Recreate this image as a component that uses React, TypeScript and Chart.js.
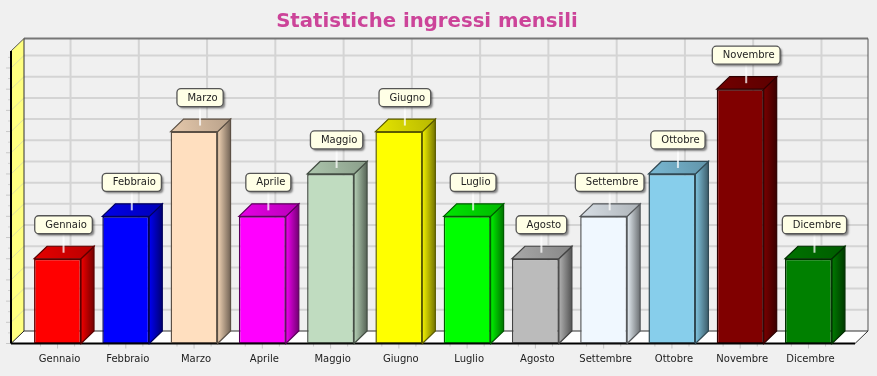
import React, { useEffect, useRef } from "react";
import { Chart, registerables } from "chart.js";

Chart.register(...registerables);

const months = ["Gennaio", "Febbraio", "Marzo", "Aprile", "Maggio", "Giugno", "Luglio", "Agosto", "Settembre", "Ottobre", "Novembre", "Dicembre"];
const ingressi = [2, 3, 5, 3, 4, 5, 3, 2, 3, 4, 6, 2];
const barColors = ["#ff0000", "#0000ff", "#ffdfbf", "#ff00ff", "#c0dcc0", "#ffff00", "#00ff00", "#bbbbbb", "#f0f8ff", "#87ceeb", "#800000", "#008000"];
const chartTitle = "Statistiche ingressi mensili";

const DX = 13;
const DY = 12.5;
const MARGIN = 12.4;

function shade(hex: string, k: number) {
  const n = parseInt(hex.slice(1), 16);
  const r = Math.round(((n >> 16) & 255) * k);
  const g = Math.round(((n >> 8) & 255) * k);
  const b = Math.round((n & 255) * k);
  return `rgb(${r},${g},${b})`;
}

function poly(ctx: CanvasRenderingContext2D, pts: number[][]) {
  ctx.beginPath();
  pts.forEach((p, i) => (i ? ctx.lineTo(p[0], p[1]) : ctx.moveTo(p[0], p[1])));
  ctx.closePath();
}

function seg(ctx: CanvasRenderingContext2D, x0: number, y0: number, x1: number, y1: number, color: string, w: number) {
  ctx.strokeStyle = color;
  ctx.lineWidth = w;
  ctx.beginPath();
  ctx.moveTo(x0, y0);
  ctx.lineTo(x1, y1);
  ctx.stroke();
}

const box3d = {
  id: "box3d",
  afterLayout(chart: any) {
    // the title is centred on the whole frame, not on the plot
    chart.titleBlock.left = 0;
    chart.titleBlock.right = 854;
  },
  beforeDraw(chart: any) {
    const { ctx, width, height } = chart;
    ctx.save();
    ctx.fillStyle = "#f0f0f0";
    ctx.fillRect(0, 0, width, height);
    ctx.restore();
  },
  beforeDatasetsDraw(chart: any) {
    const { ctx, chartArea: a, scales } = chart;
    const L = a.left - MARGIN;
    const R = a.right + MARGIN;
    const T = a.top;
    const B = a.bottom;
    ctx.save();
    // floor
    ctx.fillStyle = "#ffffff";
    poly(ctx, [[L, B], [R, B], [R + DX, B - DY], [L + DX, B - DY]]);
    ctx.fill();
    // left wall
    ctx.fillStyle = "#ffff80";
    poly(ctx, [[L, T], [L + DX, T - DY], [L + DX, B - DY], [L, B]]);
    ctx.fill();
    // horizontal grid
    scales.y.ticks.forEach((t: any) => {
      const y = scales.y.getPixelForValue(t.value);
      if (t.value > 0) {
        seg(ctx, L + DX, y - DY, R + DX, y - DY, "#d4d4d4", 2);
        seg(ctx, L, y, L + DX, y - DY, "#e0e0a0", 1);
      }
      seg(ctx, L - 5, y, L, y, "#c8c8c8", 1);
      const mid = scales.y.getPixelForValue(t.value + 0.25);
      if (mid > T) seg(ctx, L - 3, mid, L, mid, "#d0d0d0", 1);
    });
    // vertical grid and x tick marks
    months.forEach((_, i) => {
      const x = scales.x.getPixelForTick(i);
      seg(ctx, x + DX, T - DY, x + DX, B - DY, "#d4d4d4", 2);
      seg(ctx, x, B, x, B + 5, "#c4c4c4", 1);
      const step = (scales.x.getPixelForTick(1) - scales.x.getPixelForTick(0)) / 4;
      [-1, 1].forEach((s) => seg(ctx, x + s * step, B, x + s * step, B + 3, "#c8c8c8", 1));
    });
    // frame
    seg(ctx, L + DX, T - DY, R + DX, T - DY, "#777777", 2);
    seg(ctx, R + DX, T - DY, R + DX, B - DY, "#555555", 1);
    seg(ctx, L + DX, T - DY, L + DX, B - DY, "#333333", 1);
    seg(ctx, L + DX, B - DY, R + DX, B - DY, "#333333", 1);
    seg(ctx, R, B, R + DX, B - DY, "#333333", 1);
    seg(ctx, L, T, L + DX, T - DY, "#555555", 1);
    seg(ctx, L, B, L + DX, B - DY, "#222222", 1);
    seg(ctx, L, T, L, B, "#000000", 2);
    seg(ctx, L, B, R, B, "#000000", 2);
    // bar top and side faces
    const meta = chart.getDatasetMeta(0);
    meta.data.forEach((bar: any, i: number) => {
      const c = barColors[i];
      const x0 = bar.x - bar.width / 2;
      const x1 = bar.x + bar.width / 2;
      const yT = bar.y;
      const yB = bar.base;
      const edge = shade(c, 0.36);
      const sideGrad = ctx.createLinearGradient(x1, 0, x1 + DX, 0);
      sideGrad.addColorStop(0, shade(c, 0.95));
      sideGrad.addColorStop(1, shade(c, 0.45));
      poly(ctx, [[x1, yT], [x1 + DX, yT - DY], [x1 + DX, yB - DY], [x1, yB]]);
      ctx.fillStyle = sideGrad;
      ctx.fill();
      ctx.strokeStyle = edge;
      ctx.lineWidth = 1.2;
      ctx.stroke();
      const topGrad = ctx.createLinearGradient(x0, yT, x1 + DX, yT - DY);
      topGrad.addColorStop(0, shade(c, 0.9));
      topGrad.addColorStop(1, shade(c, 0.72));
      poly(ctx, [[x0, yT], [x0 + DX, yT - DY], [x1 + DX, yT - DY], [x1, yT]]);
      ctx.fillStyle = topGrad;
      ctx.fill();
      ctx.stroke();
    });
    ctx.restore();
  },
  afterDatasetsDraw(chart: any) {
    const { ctx } = chart;
    const meta = chart.getDatasetMeta(0);
    ctx.save();
    ctx.font = "10px 'DejaVu Sans'";
    ctx.textBaseline = "middle";
    ctx.textAlign = "left";
    meta.data.forEach((bar: any, i: number) => {
      const text = months[i];
      const w = ctx.measureText(text).width + 16;
      const cx = bar.x + 6;
      const h = 18;
      const bottom = bar.y - 25;
      const top = bottom - h;
      const left = cx - w / 2;
      seg(ctx, cx, bottom, cx, bar.y - 6, "rgba(255,255,255,0.75)", 2);
      ctx.save();
      ctx.shadowColor = "rgba(0,0,0,0.45)";
      ctx.shadowOffsetX = 2;
      ctx.shadowOffsetY = 2;
      ctx.shadowBlur = 2;
      ctx.fillStyle = "#ffffe6";
      ctx.beginPath();
      ctx.roundRect(left, top, w, h, 4);
      ctx.fill();
      ctx.restore();
      ctx.strokeStyle = "#555555";
      ctx.lineWidth = 1.3;
      ctx.beginPath();
      ctx.roundRect(left, top, w, h, 4);
      ctx.stroke();
      ctx.fillStyle = "#222222";
      ctx.fillText(text, left + 10.5, top + h / 2 + 0.5);
    });
    ctx.restore();
  },
};

export default function App() {
  const ref = useRef<HTMLCanvasElement>(null);
  useEffect(() => {
    const chart = new Chart(ref.current as HTMLCanvasElement, {
      type: "bar",
      data: {
        labels: months,
        datasets: [
          {
            label: "Ingressi",
            data: ingressi,
            backgroundColor: barColors,
            borderColor: barColors.map((c) => shade(c, 0.36)),
            borderWidth: 1.5,
            borderSkipped: false,
            barPercentage: 0.688,
            categoryPercentage: 1,
          },
        ],
      },
      options: {
        animation: false,
        responsive: false,
        events: [],
        layout: { padding: { left: 23.4, right: 34.4, top: 0, bottom: 0 } },
        plugins: {
          legend: { display: false },
          tooltip: { enabled: false },
          title: {
            display: true,
            text: chartTitle,
            color: "#cc4499",
            font: { family: "'DejaVu Sans'", size: 19.7, weight: "bold" },
            padding: { top: 10.2, bottom: 17.2 },
          },
        },
        scales: {
          x: {
            grid: { display: false },
            border: { display: false },
            ticks: {
              color: "#222222",
              font: { family: "'DejaVu Sans'", size: 10 },
              autoSkip: false,
              maxRotation: 0,
              labelOffset: 2,
              padding: 2,
            },
            afterFit(scale: any) {
              scale.height = 32.5;
            },
          },
          y: {
            display: false,
            min: 0,
            max: 6.9,
            ticks: { stepSize: 0.5 },
            afterBuildTicks(scale: any) {
              scale.ticks = scale.ticks.filter((t: any) => Math.abs(t.value * 2 - Math.round(t.value * 2)) < 1e-6);
            },
          },
        },
      },
      plugins: [box3d],
    } as any);
    return () => chart.destroy();
  }, []);
  return (
    <div style={{ position: "fixed", left: 0, top: 0, width: 877, height: 376 }}>
      <canvas ref={ref} width={877} height={376} style={{ display: "block" }} />
    </div>
  );
}
